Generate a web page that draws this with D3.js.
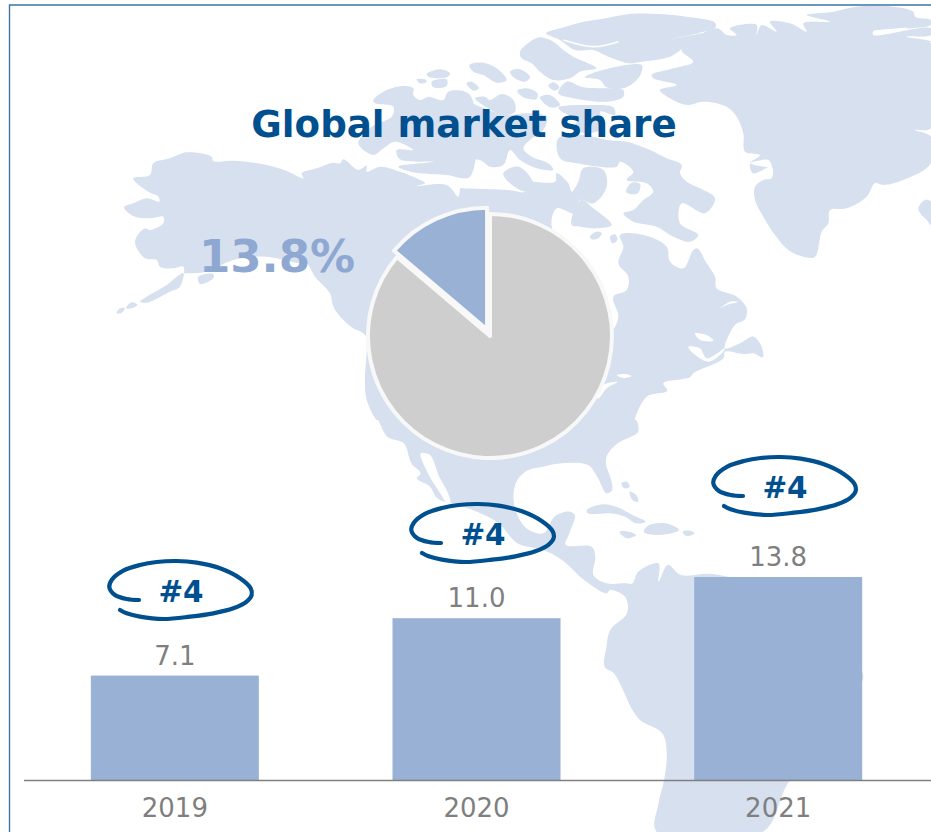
<!DOCTYPE html>
<html><head><meta charset="utf-8">
<script src="https://cdnjs.cloudflare.com/ajax/libs/d3/7.8.5/d3.min.js"></script>
<style>html,body{margin:0;padding:0;background:#fff;overflow:hidden}svg{display:block}text{font-family:"DejaVu Sans",sans-serif}</style>
</head><body><svg id="c" width="931" height="832"></svg>
<script>
// ---- chart data ----
const years = ["2019","2020","2021"];
const shareValues = [7.1,11.0,13.8];
const valueLabels = ["7.1","11.0","13.8"];
const rankLabels = ["#4","#4","#4"];
const pieNames = ["Others","Company"];
const pieValues = [86.2,13.8];
const titleText = "Global market share";
const pieLabel = "13.8%";

// ---- hand-drawn oval around the rank, traced units ----
const scribble = [[147,150],[110,147],[75,135],[58,112],[65,90],[100,62],[150,45],[200,36],[260,33],[320,38],[390,55],[450,85],[482,115],[485,135],[470,155],[430,175],[370,190],[300,200],[220,207],[150,200],[110,190],[90,180]];

// ---- background map, traced in three overlapping frames ----
const mainA1 = [[400,535],[450,525],[460,490],[510,475],[560,457],[635,470],[640,483],[700,482],[790,493],[860,513],[910,535],[905,520],[950,505],[1000,488],[1020,490],[1030,478],[1075,510],[1100,497],[1100,515],[1140,500],[1200,515],[1250,535],[1275,550],[1250,558],[1340,555],[1375,590],[1380,565]];
const mainB = [[0,565],[140,570],[195,575],[190,548],[285,545],[290,520],[325,550],[335,575],[355,545],[370,505],[430,510],[440,560],[400,610],[360,600],[345,640],[290,625],[275,680],[350,800],[400,930],[455,990],[475,950],[460,890],[500,870],[505,830],[475,790],[490,740],[480,705],[550,705],[620,740],[630,785],[670,805],[700,750],[712,745],[740,790],[765,830],[770,865],[830,890],[860,925],[855,958],[825,975],[795,1045],[840,1030],[880,1010],[905,1040],[908,1072],[880,1060],[850,1062],[795,1055],[790,1075],[700,1120],[690,1132],[610,1150],[622,1172],[560,1190],[525,1260]];
const mainC = [[770,0],[775,35],[720,70],[690,110],[690,140],[700,170],[705,210],[690,220],[665,170],[640,135],[570,130],[520,140],[480,150],[450,180],[440,240],[470,320],[520,340],[550,290],[590,275],[605,285],[590,340],[580,375],[650,380],[660,410],[655,465],[690,490],[740,490],[760,490],[775,455],[830,430],[830,485],[855,435],[890,465],[975,462],[1100,500],[1250,600],[1370,740],[1381,770],[1365,810],[1300,900],[1250,1000],[1178,1090],[1110,1236],[825,1236],[830,1150],[845,1080],[852,1000],[840,940],[780,900],[760,870],[710,760],[685,740],[690,680],[700,630],[745,580],[740,530],[700,510],[690,520],[630,480],[570,420],[520,390],[450,370],[400,310],[330,270],[270,250],[235,235],[215,200],[180,175],[190,160],[165,130],[145,70],[100,50],[75,0]];
const mainA2 = [[1130,1260],[1100,1200],[1095,1140],[1100,1040],[1095,1005],[1060,985],[1030,960],[1000,920],[990,880],[945,830],[920,790],[900,790],[800,770],[700,780],[620,815],[550,820],[545,820],[500,855],[440,890],[420,905],[440,908],[510,875],[540,860],[550,800],[520,805],[480,800],[470,780],[435,775],[405,725],[435,685],[450,690],[490,670],[490,650],[450,655],[400,648],[372,622],[400,610],[440,595],[478,605],[475,590],[445,575],[410,550]];

const islandsA = [
 [[350,940],[360,925],[375,925],[365,938]],
 [[378,925],[395,907],[412,915],[395,925]],
 [[595,830],[640,822],[640,835],[600,852]],
 [[1120,300],[1160,270],[1215,258],[1240,265],[1240,285],[1260,300],[1285,290],[1330,300],[1345,275],[1410,285],[1410,530],[1340,525],[1260,520],[1215,510],[1195,500],[1260,490],[1300,485],[1200,478],[1190,450],[1240,450],[1185,425],[1150,445],[1120,465],[1075,430],[1115,380],[1175,350],[1180,320],[1125,310]],
 [[1250,238],[1275,238],[1280,245],[1260,250]],
 [[1280,222],[1320,208],[1350,220],[1340,232],[1285,230]],
 [[1295,245],[1340,238],[1340,258],[1300,262]]
];
const islandsB = [
 [[258,100],[300,85],[360,68],[420,58],[510,42],[600,42],[680,50],[765,68],[765,85],[720,98],[630,118],[750,98],[690,130],[630,170],[545,185],[510,190],[445,170],[400,150],[345,150],[300,120]],
 [[180,155],[210,125],[240,112],[280,125],[310,150],[340,170],[385,190],[410,205],[360,215],[330,235],[280,240],[240,215],[215,190],[185,175]],
 [[375,232],[420,212],[545,195],[545,215],[530,240],[490,265],[440,262],[420,240]],
 [[295,280],[320,245],[370,262],[440,265],[490,270],[490,290],[440,305],[340,295]],
 [[265,258],[280,247],[298,262],[285,272]],
 [[172,272],[200,265],[232,280],[230,297],[190,292]],
 [[150,215],[175,207],[210,230],[195,245],[165,235]],
 [[28,195],[70,188],[110,205],[140,240],[110,248],[70,225],[40,215]],
 [[20,250],[35,245],[57,265],[40,272]],
 [[45,295],[75,290],[90,300],[125,282],[160,300],[165,335],[130,345],[85,325]],
 [[240,292],[270,285],[300,315],[270,322]],
 [[295,322],[400,315],[460,322],[465,345],[420,335],[435,380],[380,400],[340,385],[350,365],[300,330]],
 [[0,345],[20,305],[60,320],[140,345],[200,340],[260,350],[250,390],[210,420],[190,445],[215,470],[265,490],[280,510],[230,505],[180,480],[150,450],[130,495],[90,500],[60,480],[0,470]],
 [[130,520],[175,500],[220,550],[200,575],[150,550]],
 [[295,415],[370,405],[440,420],[500,425],[570,450],[620,475],[665,495],[660,520],[680,545],[720,565],[765,595],[735,640],[665,610],[660,670],[715,705],[690,725],[640,710],[590,680],[520,665],[490,640],[520,630],[550,600],[580,575],[560,550],[500,540],[520,515],[480,485],[470,500],[350,490],[300,475]],
 [[345,625],[365,600],[400,625],[455,675],[410,685],[360,680],[335,675]],
 [[390,710],[410,695],[425,700],[415,715],[395,718]],
 [[450,710],[465,703],[472,720],[458,730]],
 [[498,575],[515,548],[540,552],[535,578],[510,582]],
 [[575,225],[640,205],[700,185],[665,150],[770,85],[800,105],[830,105],[810,85],[890,75],[890,105],[905,75],[950,95],[930,65],[990,70],[1040,95],[1030,70],[1110,65],[1040,45],[1120,35],[1190,20],[1300,20],[1360,35],[1365,50],[1413,60],[1413,75],[1240,95],[1240,105],[1413,85],[1413,105],[1340,110],[1413,125],[1385,140],[1413,130],[1413,385],[1365,390],[1413,410],[1413,490],[1330,540],[1270,555],[1245,550],[1220,590],[1160,625],[1110,630],[1105,670],[1085,695],[1065,770],[1030,770],[985,750],[945,705],[910,650],[885,600],[885,560],[910,540],[935,535],[935,500],[880,520],[870,490],[900,465],[855,455],[850,400],[830,350],[800,320],[730,305],[680,315],[630,295],[600,270],[650,255],[580,235]],
 [[1375,625],[1395,600],[1413,605],[1413,675],[1400,660],[1385,645]]
];
const islandsC = [
 [[637,270],[680,253],[720,262],[760,285],[795,305],[770,310],[740,290],[700,280],[640,280]],
 [[790,335],[805,315],[850,310],[885,330],[830,345]],
 [[895,335],[915,332],[927,340],[905,348]],
 [[725,335],[750,335],[770,345],[745,355]],
 [[730,190],[745,185],[752,200],[738,205]],
 [[752,215],[770,225],[775,245],[760,240]]
];
// white seas and straits
const watersB = [
 [[470,1125],[495,1122],[515,1128],[490,1134]],
 [[400,1190],[430,1155],[472,1146],[440,1165],[415,1195]],
 [[450,870],[470,845],[480,865],[460,880]],
 [[705,1000],[740,1005],[760,1022],[720,1020]],
 [[685,1040],[720,1045],[740,1075],[795,1045],[790,1055],[745,1085],[700,1060]],
 [[780,925],[810,905],[835,905],[800,915]],
 [[870,490],[925,480],[935,500]]
];
const watersC = [
 [[190,100],[215,105],[240,170],[262,215],[270,250],[262,250],[240,215],[205,150]]
];
const channelsA = [[[920,795],[945,850],[965,900],[990,905]],[[1000,920],[970,900]]];
const channelsB = [[[310,120],[400,140],[475,125]],[[335,165],[440,170]],[[1240,95],[1340,85]]];

// ---- scales ----
const W = 931, H = 832;
const svg = d3.select("#c");
const xA = d3.scaleLinear().domain([0,3]).range([0,1]);
const xB = d3.scaleLinear().domain([0,3]).range([460,461]);
const xC = d3.scaleLinear().domain([0,2.69]).range([350,351]);
const yAB = d3.scaleLinear().domain([0,3]).range([0,1]);
const yC = d3.scaleLinear().domain([0,3]).range([420,421]);
const conv = (sx,sy) => pts => pts.map(p => [sx(p[0]),sy(p[1])]);
const fA = conv(xA,yAB), fB = conv(xB,yAB), fC = conv(xC,yC);

const x = d3.scaleBand().domain(years).range([24,929]).paddingInner(0.443).paddingOuter(0.2215);
const y = d3.scaleLinear().domain([0,13.8]).range([780,577]);

// ---- map ----
const mapFill = "#d6e0ef";
const poly = d3.line().curve(d3.curveCatmullRomClosed.alpha(0.5));
const open = d3.line().curve(d3.curveCatmullRom.alpha(0.5));
const map = svg.append("g");
const land = [fA(mainA1).concat(fB(mainB),fC(mainC),fA(mainA2))]
  .concat(islandsA.map(fA), islandsB.map(fB), islandsC.map(fC));
map.selectAll("path.land").data(land).join("path").attr("class","land").attr("d",poly).attr("fill",mapFill);
map.selectAll("path.water").data(watersB.map(fB).concat(watersC.map(fC))).join("path").attr("class","water").attr("d",poly).attr("fill","#fff");
map.selectAll("path.chan").data(channelsA.map(fA).concat(channelsB.map(fB))).join("path").attr("class","chan").attr("d",open).attr("fill","none").attr("stroke","#fff").attr("stroke-width",1.6);

// ---- frame ----
svg.append("path").attr("d",d3.line()([[9.5,H],[9.5,5],[W,5]])).attr("fill","none").attr("stroke","#3d75a8").attr("stroke-width",1.4);

// ---- title ----
svg.append("text").attr("x",464).attr("y",137).attr("text-anchor","middle")
  .attr("font-size",37.2).attr("font-weight","bold").attr("fill","#004f8f").text(titleText);

// ---- pie ----
const pieCx = 490, pieCy = 336, pieR = 122;
const arcs = d3.pie().sort(null)(pieValues);
const arc = d3.arc().innerRadius(0).outerRadius(pieR);
const pieG = svg.append("g").attr("transform",`translate(${pieCx},${pieCy})`);
pieG.selectAll("path").data(arcs).join("path")
  .attr("d",arc)
  .attr("transform",(d,i)=>{
    if(i===0) return null;
    const [cx,cy] = arc.centroid(d), len = Math.hypot(cx,cy), off = 7;
    return `translate(${cx/len*off},${cy/len*off})`;
  })
  .attr("fill",(d,i)=>["#cecece","#9ab1d6"][i])
  .attr("stroke","#f8f8f8").attr("stroke-width",4).attr("stroke-linejoin","round");
svg.append("text").attr("x",277).attr("y",272).attr("text-anchor","middle")
  .attr("font-size",45).attr("font-weight","bold").attr("fill","#8ea8d1").text(pieLabel);

// ---- bars ----
svg.selectAll("rect.bar").data(shareValues).join("rect").attr("class","bar")
  .attr("x",(d,i)=>x(years[i])).attr("width",x.bandwidth())
  .attr("y",d=>y(d)).attr("height",d=>y(0)-y(d)).attr("fill","#9ab1d6");
svg.append("line").attr("x1",24).attr("x2",W).attr("y1",y(0)+0.5).attr("y2",y(0)+0.5).attr("stroke","#808080").attr("stroke-width",1.4);

svg.selectAll("text.val").data(shareValues).join("text").attr("class","val")
  .attr("x",(d,i)=>x(years[i])+x.bandwidth()/2).attr("y",d=>y(d)-11)
  .attr("text-anchor","middle").attr("font-size",26).attr("fill","#7f7f7f")
  .text((d,i)=>valueLabels[i]);

const axis = d3.axisBottom(x).tickSize(0).tickPadding(0);
const axG = svg.append("g").attr("transform",`translate(0,${y(0)})`).call(axis);
axG.select(".domain").remove();
axG.selectAll("text").attr("font-size",26).attr("font-family",'"DejaVu Sans",sans-serif').attr("fill","#7f7f7f").attr("y",37).attr("dy",0);

// ---- rank ovals ----
const scribX = d3.scaleLinear().domain([0,3]).range([90,91]);
const scribY = d3.scaleLinear().domain([0,3]).range([550,551]);
const scribLine = d3.line().x(p=>scribX(p[0])).y(p=>scribY(p[1])).curve(d3.curveCatmullRom.alpha(0.5));
const rankShiftX = [0,302,604], rankShiftY = [0,-57,-104];
const rank = svg.selectAll("g.rank").data(rankLabels).join("g").attr("class","rank")
  .attr("transform",(d,i)=>`translate(${rankShiftX[i]},${rankShiftY[i]})`);
rank.append("path").attr("d",scribLine(scribble)).attr("fill","none").attr("stroke","#00508f").attr("stroke-width",4.2).attr("stroke-linecap","round");
rank.append("text").attr("x",181).attr("y",602).attr("text-anchor","middle").attr("font-size",29.5).attr("font-weight","bold").attr("fill","#00508f").text(d=>d);
</script></body></html>
